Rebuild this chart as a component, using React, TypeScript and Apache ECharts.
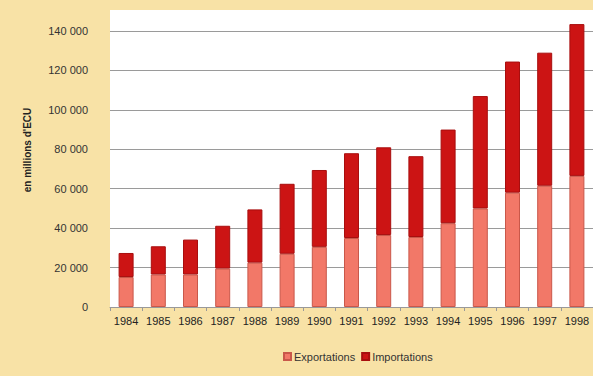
import React, { useEffect, useRef } from "react";
import * as echarts from "echarts";

const years = ["1984","1985","1986","1987","1988","1989","1990","1991","1992","1993","1994","1995","1996","1997","1998"];
const exportations = [15200, 16500, 16500, 19500, 22500, 27000, 30500, 35000, 36500, 35500, 42500, 50000, 58000, 61500, 66500];
const totals = [27400, 30800, 34200, 41200, 49500, 62500, 69500, 78000, 81000, 76500, 90000, 107000, 124500, 129000, 143500];
const importations = totals.map((t, i) => t - exportations[i]);

const fmt = (v: number) => (v === 0 ? "0" : String(v).replace(/\B(?=(\d{3})+(?!\d))/g, " "));

export default function App() {
  const ref = useRef<HTMLDivElement>(null);
  useEffect(() => {
    if (!ref.current) return;
    const chart = echarts.init(ref.current, null, { renderer: "svg" });
    chart.setOption({
      animation: false,
      backgroundColor: "#f8e2a6",
      textStyle: { fontFamily: "Liberation Sans" },
      graphic: [
        { type: "rect", z: -10, shape: { x: 110, y: 10, width: 483, height: 297 }, style: { fill: "#ffffff" } },
        {
          type: "text",
          x: 27,
          y: 150,
          rotation: Math.PI / 2,
          style: {
            text: "en millions d'ECU",
            fontFamily: "Liberation Sans",
            fontWeight: "bold",
            fontSize: 10,
            fill: "#222",
            align: "center",
            verticalAlign: "middle",
          },
        },
      ],
      legend: {
        data: ["Exportations", "Importations"],
        left: 278,
        top: 346,
        itemWidth: 7,
        itemHeight: 7,
        itemGap: 6,
        icon: "rect",
        textStyle: { fontSize: 11, color: "#333", fontFamily: "Liberation Sans", padding: [0, 0, 0, -2] },
      },
      grid: { left: 110, top: 31, width: 486, height: 276 },
      xAxis: {
        type: "category",
        data: years,
        axisLine: { lineStyle: { color: "#999" } },
        axisTick: { show: true, length: 4, lineStyle: { color: "#999" } },
        axisLabel: { color: "#222", fontSize: 11, margin: 8 },
      },
      yAxis: {
        type: "value",
        min: 0,
        max: 140000,
        interval: 20000,
        axisLine: { show: false },
        axisTick: { show: false },
        splitLine: { lineStyle: { color: "#9a9a9a" } },
        axisLabel: { color: "#333", fontSize: 11, margin: 22, formatter: (v: number) => fmt(v) },
      },
      series: [
        {
          name: "Exportations",
          type: "bar",
          stack: "t",
          clip: false,
          data: exportations,
          barWidth: 15,
          itemStyle: { color: "#f27868", borderColor: "#c9584a", borderWidth: 1 },
        },
        {
          name: "Importations",
          type: "bar",
          stack: "t",
          clip: false,
          data: importations,
          barWidth: 15,
          itemStyle: { color: "#cc1414", borderColor: "#a80e0e", borderWidth: 1 },
        },
      ],
    });
    return () => chart.dispose();
  }, []);
  return <div ref={ref} style={{ width: 593, height: 376, position: "absolute", left: 0, top: 0 }} />;
}
